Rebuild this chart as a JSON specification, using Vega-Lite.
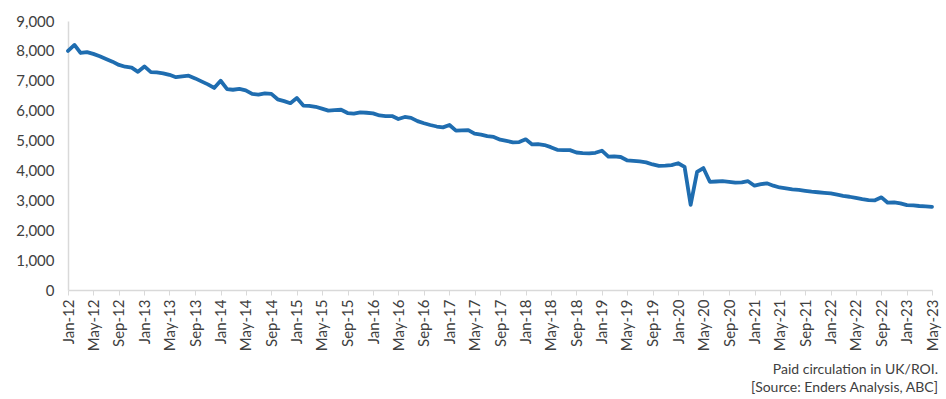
{
  "$schema": "https://vega.github.io/schema/vega-lite/v6.json",
  "width": 864,
  "height": 269,
  "autosize": {"type": "none"},
  "padding": {"left": 68, "top": 21, "right": 14, "bottom": 109},
  "background": "white",
  "config": {"view": {"stroke": null}, "font": "Lato"},
  "title": {
    "text": ["Paid circulation in UK/ROI.", "[Source: Enders Analysis, ABC]"],
    "orient": "bottom",
    "anchor": "end",
    "frame": "group",
    "fontSize": 14,
    "fontWeight": "normal",
    "font": "Lato",
    "color": "#404040",
    "lineHeight": 18,
    "offset": 12,
    "dx": 6
  },
  "data": {
    "values": [
      {"m": "2012-01-01", "v": 8000}, {"m": "2012-02-01", "v": 8200}, {"m": "2012-03-01", "v": 7930}, {"m": "2012-04-01", "v": 7960},
      {"m": "2012-05-01", "v": 7900}, {"m": "2012-06-01", "v": 7820}, {"m": "2012-07-01", "v": 7730}, {"m": "2012-08-01", "v": 7640},
      {"m": "2012-09-01", "v": 7530}, {"m": "2012-10-01", "v": 7470}, {"m": "2012-11-01", "v": 7440}, {"m": "2012-12-01", "v": 7300},
      {"m": "2013-01-01", "v": 7480}, {"m": "2013-02-01", "v": 7290}, {"m": "2013-03-01", "v": 7280}, {"m": "2013-04-01", "v": 7250},
      {"m": "2013-05-01", "v": 7200}, {"m": "2013-06-01", "v": 7120}, {"m": "2013-07-01", "v": 7150}, {"m": "2013-08-01", "v": 7170},
      {"m": "2013-09-01", "v": 7080}, {"m": "2013-10-01", "v": 6980}, {"m": "2013-11-01", "v": 6880}, {"m": "2013-12-01", "v": 6760},
      {"m": "2014-01-01", "v": 7000}, {"m": "2014-02-01", "v": 6720}, {"m": "2014-03-01", "v": 6700}, {"m": "2014-04-01", "v": 6730},
      {"m": "2014-05-01", "v": 6680}, {"m": "2014-06-01", "v": 6560}, {"m": "2014-07-01", "v": 6540}, {"m": "2014-08-01", "v": 6580},
      {"m": "2014-09-01", "v": 6560}, {"m": "2014-10-01", "v": 6380}, {"m": "2014-11-01", "v": 6320}, {"m": "2014-12-01", "v": 6250},
      {"m": "2015-01-01", "v": 6420}, {"m": "2015-02-01", "v": 6170}, {"m": "2015-03-01", "v": 6160}, {"m": "2015-04-01", "v": 6130},
      {"m": "2015-05-01", "v": 6070}, {"m": "2015-06-01", "v": 6000}, {"m": "2015-07-01", "v": 6020}, {"m": "2015-08-01", "v": 6030},
      {"m": "2015-09-01", "v": 5920}, {"m": "2015-10-01", "v": 5900}, {"m": "2015-11-01", "v": 5940}, {"m": "2015-12-01", "v": 5930},
      {"m": "2016-01-01", "v": 5910}, {"m": "2016-02-01", "v": 5840}, {"m": "2016-03-01", "v": 5820}, {"m": "2016-04-01", "v": 5820},
      {"m": "2016-05-01", "v": 5720}, {"m": "2016-06-01", "v": 5790}, {"m": "2016-07-01", "v": 5760}, {"m": "2016-08-01", "v": 5650},
      {"m": "2016-09-01", "v": 5580}, {"m": "2016-10-01", "v": 5520}, {"m": "2016-11-01", "v": 5470}, {"m": "2016-12-01", "v": 5440},
      {"m": "2017-01-01", "v": 5520}, {"m": "2017-02-01", "v": 5330}, {"m": "2017-03-01", "v": 5340}, {"m": "2017-04-01", "v": 5350},
      {"m": "2017-05-01", "v": 5230}, {"m": "2017-06-01", "v": 5200}, {"m": "2017-07-01", "v": 5150}, {"m": "2017-08-01", "v": 5120},
      {"m": "2017-09-01", "v": 5030}, {"m": "2017-10-01", "v": 4990}, {"m": "2017-11-01", "v": 4940}, {"m": "2017-12-01", "v": 4950},
      {"m": "2018-01-01", "v": 5040}, {"m": "2018-02-01", "v": 4870}, {"m": "2018-03-01", "v": 4880}, {"m": "2018-04-01", "v": 4850},
      {"m": "2018-05-01", "v": 4780}, {"m": "2018-06-01", "v": 4690}, {"m": "2018-07-01", "v": 4680}, {"m": "2018-08-01", "v": 4680},
      {"m": "2018-09-01", "v": 4600}, {"m": "2018-10-01", "v": 4580}, {"m": "2018-11-01", "v": 4570}, {"m": "2018-12-01", "v": 4590},
      {"m": "2019-01-01", "v": 4660}, {"m": "2019-02-01", "v": 4460}, {"m": "2019-03-01", "v": 4470}, {"m": "2019-04-01", "v": 4450},
      {"m": "2019-05-01", "v": 4340}, {"m": "2019-06-01", "v": 4320}, {"m": "2019-07-01", "v": 4300}, {"m": "2019-08-01", "v": 4270},
      {"m": "2019-09-01", "v": 4200}, {"m": "2019-10-01", "v": 4150}, {"m": "2019-11-01", "v": 4160}, {"m": "2019-12-01", "v": 4180},
      {"m": "2020-01-01", "v": 4240}, {"m": "2020-02-01", "v": 4120}, {"m": "2020-03-01", "v": 2850}, {"m": "2020-04-01", "v": 3950},
      {"m": "2020-05-01", "v": 4080}, {"m": "2020-06-01", "v": 3620}, {"m": "2020-07-01", "v": 3630}, {"m": "2020-08-01", "v": 3640},
      {"m": "2020-09-01", "v": 3620}, {"m": "2020-10-01", "v": 3590}, {"m": "2020-11-01", "v": 3600}, {"m": "2020-12-01", "v": 3640},
      {"m": "2021-01-01", "v": 3490}, {"m": "2021-02-01", "v": 3540}, {"m": "2021-03-01", "v": 3570}, {"m": "2021-04-01", "v": 3490},
      {"m": "2021-05-01", "v": 3430}, {"m": "2021-06-01", "v": 3400}, {"m": "2021-07-01", "v": 3370}, {"m": "2021-08-01", "v": 3350},
      {"m": "2021-09-01", "v": 3320}, {"m": "2021-10-01", "v": 3290}, {"m": "2021-11-01", "v": 3270}, {"m": "2021-12-01", "v": 3250},
      {"m": "2022-01-01", "v": 3230}, {"m": "2022-02-01", "v": 3190}, {"m": "2022-03-01", "v": 3150}, {"m": "2022-04-01", "v": 3120},
      {"m": "2022-05-01", "v": 3080}, {"m": "2022-06-01", "v": 3040}, {"m": "2022-07-01", "v": 3010}, {"m": "2022-08-01", "v": 3000},
      {"m": "2022-09-01", "v": 3100}, {"m": "2022-10-01", "v": 2920}, {"m": "2022-11-01", "v": 2930}, {"m": "2022-12-01", "v": 2900},
      {"m": "2023-01-01", "v": 2840}, {"m": "2023-02-01", "v": 2830}, {"m": "2023-03-01", "v": 2810}, {"m": "2023-04-01", "v": 2800},
      {"m": "2023-05-01", "v": 2780}
    ]
  },
  "mark": {"type": "line", "color": "#1f6db0", "strokeWidth": 3.8, "strokeJoin": "round", "strokeCap": "round"},
  "encoding": {
    "x": {
      "field": "m",
      "type": "temporal",
      "scale": {
        "type": "utc",
        "domain": [{"year": 2012, "month": 1, "date": 1, "utc": true}, {"year": 2023, "month": 5, "date": 1, "utc": true}],
        "nice": false
      },
      "axis": {
        "title": null,
        "format": "%b-%y",
        "tickCount": {"interval": "month", "step": 4},
        "labelAngle": 270,
        "labelAlign": "right",
        "labelBaseline": "middle",
        "labelFontSize": 15,
        "labelColor": "#404040",
        "labelFont": "Lato",
        "labelPadding": 4,
        "labelOverlap": false,
        "labelFlush": false,
        "grid": false,
        "domainColor": "#d9d9d9",
        "domainWidth": 1.5,
        "tickColor": "#d9d9d9",
        "tickSize": 5
      }
    },
    "y": {
      "field": "v",
      "type": "quantitative",
      "scale": {"domain": [0, 9000], "nice": false},
      "axis": {
        "title": null,
        "values": [0, 1000, 2000, 3000, 4000, 5000, 6000, 7000, 8000, 9000],
        "format": ",.0f",
        "labelFontSize": 15,
        "labelColor": "#404040",
        "labelFont": "Lato",
        "labelPadding": 14,
        "ticks": false,
        "grid": false,
        "domainColor": "#d9d9d9",
        "domainWidth": 1.5
      }
    }
  }
}
